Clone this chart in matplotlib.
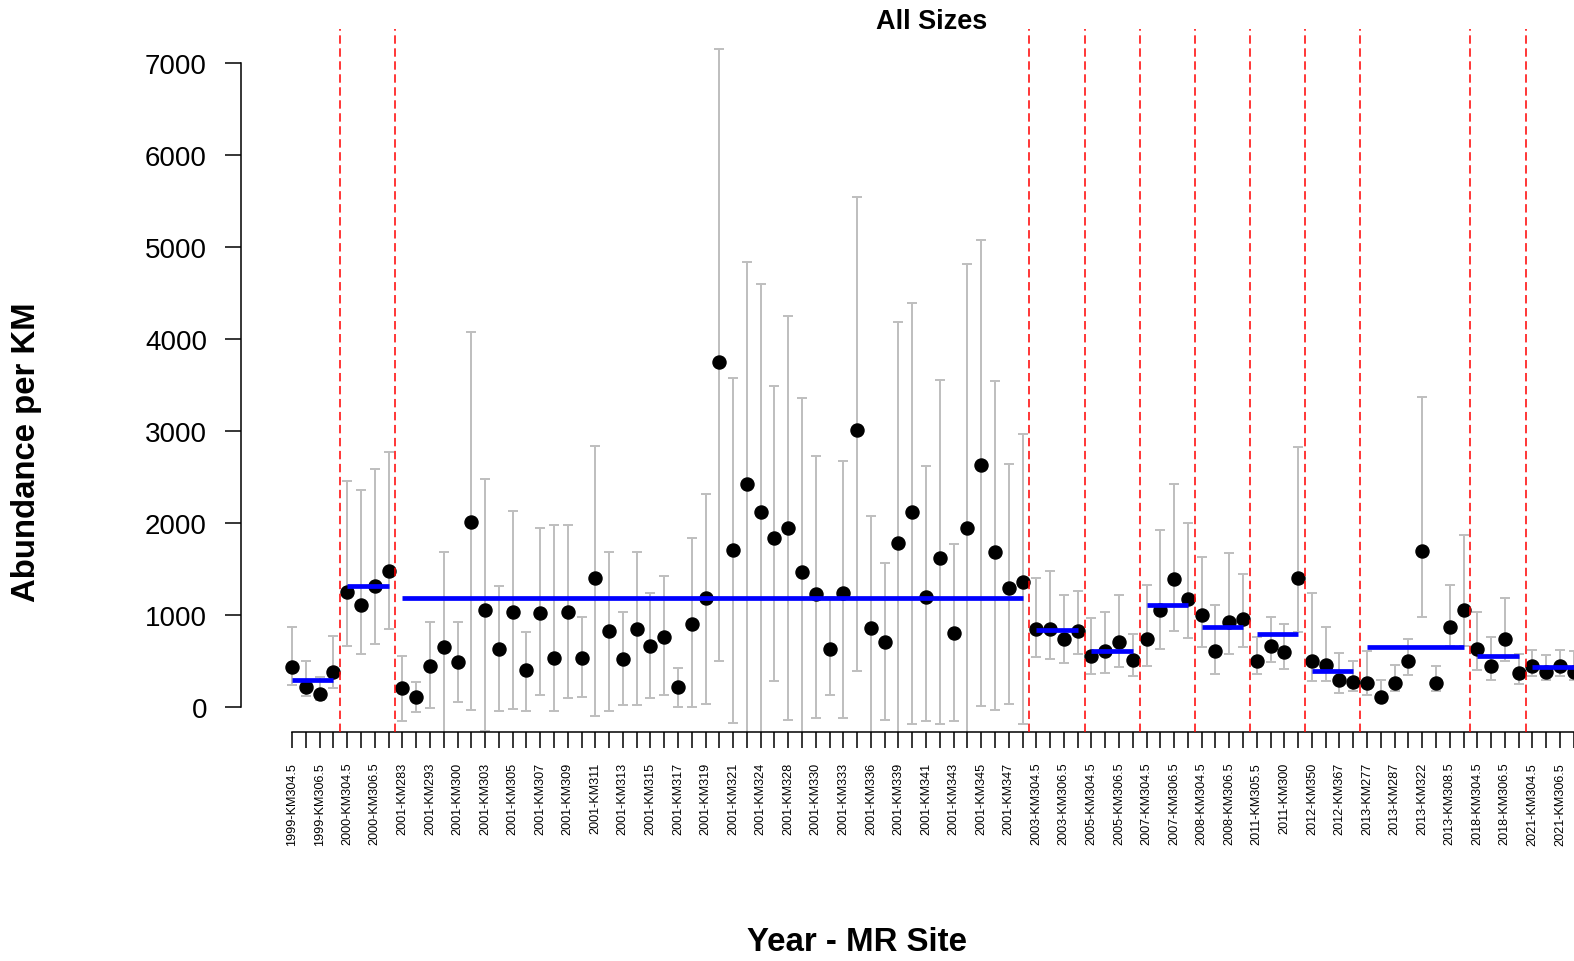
import matplotlib
matplotlib.use("Agg")
import matplotlib.pyplot as plt
import numpy as np

plt.rcParams['font.family'] = ['Liberation Sans', 'DejaVu Sans']

# Year - site combinations, in plotting order
categories = [
    "1999-KM304.5", "1999-KM305.5", "1999-KM306.5", "1999-KM307.5",
    "2000-KM304.5", "2000-KM305.5", "2000-KM306.5", "2000-KM307.5",
    "2001-KM283", "2001-KM290", "2001-KM293", "2001-KM297", "2001-KM300", "2001-KM302",
    "2001-KM303", "2001-KM304", "2001-KM305", "2001-KM306", "2001-KM307", "2001-KM308",
    "2001-KM309", "2001-KM310", "2001-KM311", "2001-KM312", "2001-KM313", "2001-KM314",
    "2001-KM315", "2001-KM316", "2001-KM317", "2001-KM318", "2001-KM319", "2001-KM320",
    "2001-KM321", "2001-KM322", "2001-KM324", "2001-KM326", "2001-KM328", "2001-KM329",
    "2001-KM330", "2001-KM332", "2001-KM333", "2001-KM335", "2001-KM336", "2001-KM338",
    "2001-KM339", "2001-KM340", "2001-KM341", "2001-KM342", "2001-KM343", "2001-KM344",
    "2001-KM345", "2001-KM346", "2001-KM347", "2001-KM348",
    "2003-KM304.5", "2003-KM305.5", "2003-KM306.5", "2003-KM307.5",
    "2005-KM304.5", "2005-KM305.5", "2005-KM306.5", "2005-KM307.5",
    "2007-KM304.5", "2007-KM305.5", "2007-KM306.5", "2007-KM307.5",
    "2008-KM304.5", "2008-KM305.5", "2008-KM306.5", "2008-KM307.5",
    "2011-KM305.5", "2011-KM307.5", "2011-KM300", "2011-KM302",
    "2012-KM350", "2012-KM355", "2012-KM367", "2012-KM370",
    "2013-KM277", "2013-KM282", "2013-KM287", "2013-KM300",
    "2013-KM322", "2013-KM304.5", "2013-KM308.5", "2013-KM310.5",
    "2018-KM304.5", "2018-KM305.5", "2018-KM306.5", "2018-KM307.5",
    "2021-KM304.5", "2021-KM305.5", "2021-KM306.5", "2021-KM307.5",
]

# Abundance estimate per KM
abundance = [
    428, 217, 138, 373,
    1251, 1110, 1309, 1479,
    203, 109, 439, 646, 482, 2012, 1051, 628, 1033, 403, 1015, 533, 1033, 533,
    1403, 827, 515, 845, 659, 756, 219, 905, 1182, 3746, 1701, 2427, 2116, 1835,
    1948, 1464, 1227, 629, 1242, 3005, 852, 704, 1777, 2115, 1190, 1618, 802,
    1947, 2632, 1687, 1287, 1358,
    845, 845, 736, 827,
    555, 609, 700, 511,
    736, 1051, 1389, 1171,
    997, 609, 924, 953,
    493, 663, 591, 1400,
    493, 456, 290, 272,
    254, 109, 254, 493, 1696, 257, 863, 1055,
    628, 446, 736, 367,
    439, 374, 439, 381,
]

# Lower confidence bound
lower = [
    235, 113, 73, 199,
    663, 569, 681, 845,
    -152, -62, -18, -389, 54, -37, -260, -44, -26, -44, 127, -44, 91, 109,
    -97, -44, 18, 18, 91, 129, -3, -3, 31, 501, -180, -369, -369, 278,
    -140, -320, -120, 131, -120, 392, -352, -140, -369, -185, -155, -185, -155,
    -369, 9, -31, 25, -185,
    537, 518, 475, 573,
    356, 367, 427, 337,
    446, 628, 827, 743,
    653, 356, 573, 653,
    356, 482, 409, 809,
    276, 276, 149, 166,
    131, 59, 166, 348, 979, 166, 663, 663,
    403, 294, 500, 246,
    337, 294, 337, 288,
]

# Upper confidence bound
upper = [
    862, 493, 326, 772,
    2458, 2361, 2585, 2773,
    548, 272, 917, 1679, 917, 4072, 2476, 1309, 2125, 809, 1939, 1976, 1976, 975,
    2832, 1679, 1033, 1679, 1236, 1424, 416, 1835, 2319, 7150, 3579, 4838, 4601, 3489,
    4250, 3356, 2728, 1192, 2669, 5547, 2080, 1559, 4189, 4391, 2616, 3556, 1765,
    4815, 5075, 3540, 2636, 2965,
    1400, 1472, 1214, 1255,
    961, 1033, 1214, 790,
    1327, 1921, 2421, 1994,
    1625, 1106, 1667, 1443,
    754, 979, 900, 2828,
    1236, 863, 584, 493,
    609, 290, 456, 736, 3365, 439, 1327, 1867,
    1033, 754, 1182, 573,
    620, 562, 620, 609,
]

# Mean abundance for each survey year
group_years = ["1999", "2000", "2001", "2003", "2005", "2007", "2008",
               "2011", "2012", "2013", "2018", "2021"]
group_means = [294, 1309, 1182, 838, 609, 1106, 863, 790, 385, 646, 555, 427]

y_ticks = [0, 1000, 2000, 3000, 4000, 5000, 6000, 7000]

W, H = 1574, 962
DPI = 100
fig = plt.figure(figsize=(W / DPI, H / DPI), dpi=DPI)

# Plot region in pixels (it runs past the right edge of the figure)
left_px, right_px, top_px, bottom_px = 241, 1622, 30, 733
ax = fig.add_axes([left_px / W, 1 - bottom_px / H,
                   (right_px - left_px) / W, (bottom_px - top_px) / H])

x = np.arange(len(categories))
vals = np.array(abundance, dtype=float)
lo = np.array(lower, dtype=float)
hi = np.array(upper, dtype=float)

# Confidence intervals
ax.errorbar(x, vals, yerr=[vals - lo, hi - vals], fmt='none',
            ecolor='#bebebe', elinewidth=1.4, capsize=3.5, capthick=1.4, zorder=1)

# Point estimates
ax.plot(x, vals, 'o', color='black', markersize=9.4, zorder=3)

# Year means and separators between years
year_of = [c.split('-')[0] for c in categories]
bounds = []
for yr, m in zip(group_years, group_means):
    idx = [i for i, y in enumerate(year_of) if y == yr]
    ax.plot([idx[0], idx[-1]], [m, m], color='#0000ff', lw=3.4,
            solid_capstyle='butt', zorder=4)
    bounds.append(idx[-1])
for b in bounds[:-1]:
    ax.axvline(b + 0.5, color='#ff0000', lw=1.1, ls=(0, (5.5, 3)), zorder=5)

ax.set_xlim(-3.71, 96.5)
ax.set_ylim(-275, 7372)

for s in ['top', 'right']:
    ax.spines[s].set_visible(False)
ax.spines['left'].set_bounds(0, 7000)
ax.spines['bottom'].set_bounds(0, 96.5)
for s in ['left', 'bottom']:
    ax.spines[s].set_linewidth(1.1)

ax.set_yticks(y_ticks)
ax.set_yticklabels([str(v) for v in y_ticks], fontsize=20)
ax.tick_params(axis='y', length=11.5, width=1.1, pad=13, direction='out')

ax.set_xticks(x)
shown = [c if i % 2 == 0 else '' for i, c in enumerate(categories)]
ax.set_xticklabels(shown, rotation=90, fontsize=9.1, va='top', ha='center')
ax.tick_params(axis='x', length=11.5, width=1.1, pad=10, direction='out')

fig.text(931.5 / W, 1 - 22 / H, "All Sizes", ha='center', va='center',
         fontsize=19.5, fontweight='bold')
fig.text(27 / W, 1 - 452 / H, "Abundance per KM", ha='center', va='center',
         rotation=90, fontsize=23.7, fontweight='bold')
fig.text(857 / W, 1 - 943 / H, "Year - MR Site", ha='center', va='center',
         fontsize=23.8, fontweight='bold')

fig.savefig("out.png", dpi=DPI)
